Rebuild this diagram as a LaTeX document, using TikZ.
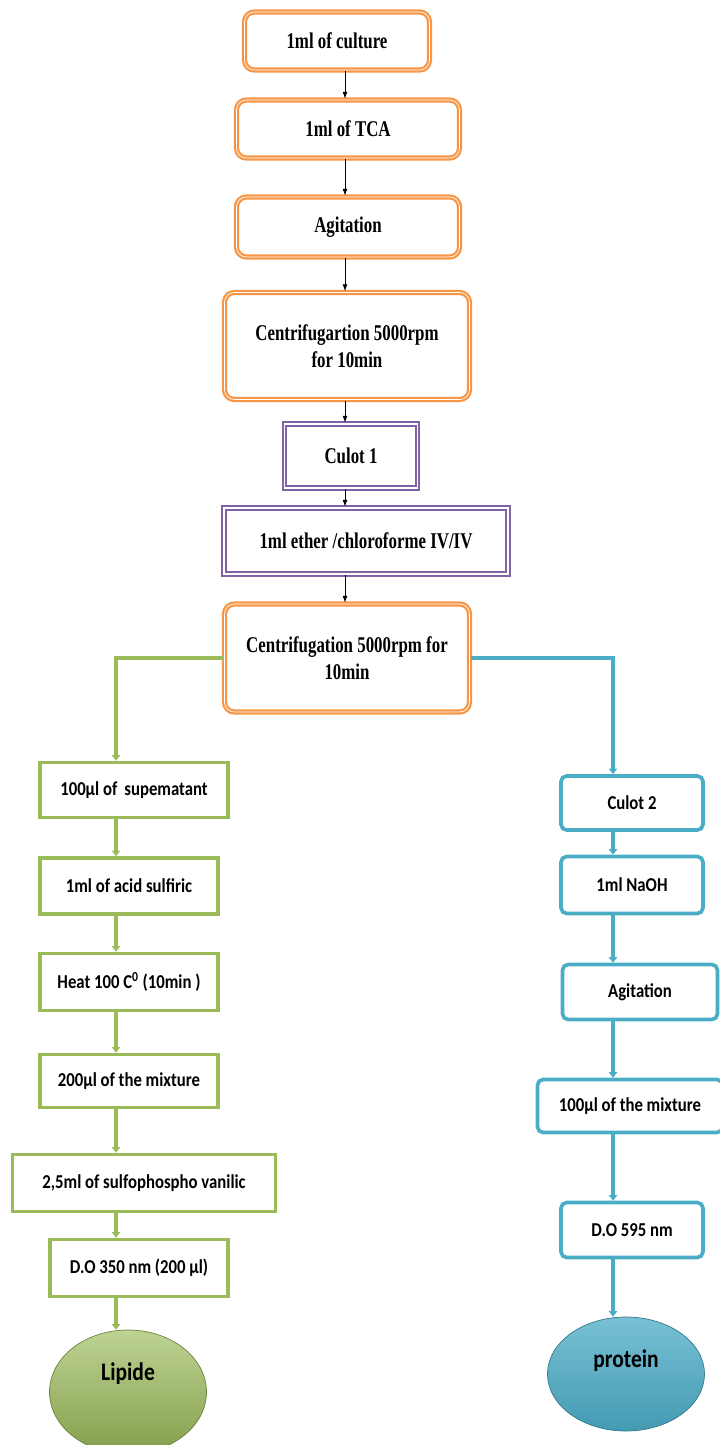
\documentclass[tikz,border=0pt]{standalone}
\usepackage{fontspec}
\newfontfamily\boxserif[FakeStretch=0.75]{Liberation Serif}
\newfontfamily\boxsans[FakeStretch=0.85]{Carlito}
\usetikzlibrary{arrows.meta,shapes.geometric}
\definecolor{boxorange}{RGB}{247,150,70}
\definecolor{boxpurple}{RGB}{128,100,162}
\definecolor{boxgreen}{RGB}{155,187,89}
\definecolor{boxblue}{RGB}{75,172,198}
\newdimen\pxu \pxu=0.025cm

\begin{document}
\begin{tikzpicture}[x=0.025cm,y=-0.025cm,
	orangebox/.style={draw=boxorange,double=white,line width=1.6pt,double distance=0.5pt,rounded corners=7pt,fill=white,inner sep=0pt,align=center,font=\boxserif\bfseries\fontsize{16}{19}\selectfont},
	purplebox/.style={draw=boxpurple,double=white,line width=1.6pt,double distance=0.9pt,fill=white,inner sep=0pt,align=center,font=\boxserif\bfseries\fontsize{16}{19}\selectfont},
	greenbox/.style={draw=boxgreen,line width=2.6pt,fill=white,inner sep=0pt,font=\boxsans\bfseries\fontsize{14}{16}\selectfont},
	bluebox/.style={draw=boxblue,line width=2.6pt,rounded corners=4pt,fill=white,inner sep=0pt,font=\boxsans\bfseries\fontsize{14}{16}\selectfont},
	blackarrow/.style={line width=0.7pt,-{Latex[length=5pt,width=3.5pt]}},
	greenline/.style={draw=boxgreen,line width=2.5pt,-{Triangle[length=4pt,width=6pt]}},
	blueline/.style={draw=boxblue,line width=2.5pt,-{Triangle[length=4pt,width=6pt]}}]
	\useasboundingbox (0,0) rectangle (720,1445);
	\coordinate (mx) at (345,0);
	\coordinate (gx) at (116,0);
	\coordinate (bx) at (613,0);
	\node[orangebox,minimum width=185\pxu,minimum height=58\pxu] (t1) at (337,41) {1ml of culture};
	\node[orangebox,minimum width=223\pxu,minimum height=58\pxu] (t2) at (348,129) {1ml of TCA};
	\node[orangebox,minimum width=223\pxu,minimum height=60\pxu] (t3) at (348,227) {Agitation};
	\node[orangebox,minimum width=245\pxu,minimum height=107\pxu] (t4) at (347,346) {Centrifugartion 5000rpm\\for 10min};
	\node[purplebox,minimum width=133\pxu,minimum height=64\pxu] (p1) at (351,456) {Culot 1};
	\node[purplebox,minimum width=284\pxu,minimum height=66\pxu] (p2) at (366,541) {1ml ether /chloroforme IV/IV};
	\node[orangebox,minimum width=245\pxu,minimum height=108\pxu] (t5) at (347,658) {Centrifugation 5000rpm for\\10min};
	\node[greenbox,minimum width=188\pxu,minimum height=55\pxu] (l1) at (134,790) {100µl of\, supematant};
	\node[greenbox,minimum width=178\pxu,minimum height=56\pxu] (l2) at (129,886) {1ml of acid sulfiric};
	\node[greenbox,minimum width=178\pxu,minimum height=57\pxu] (l3) at (129,982) {Heat 100 C\textsuperscript{0} (10min )};
	\node[greenbox,minimum width=178\pxu,minimum height=53\pxu] (l4) at (129,1081) {200µl of the mixture};
	\node[greenbox,minimum width=263\pxu,minimum height=57\pxu] (l5) at (144,1183) {2,5ml of sulfophospho vanilic};
	\node[greenbox,minimum width=178\pxu,minimum height=57\pxu] (l6) at (139,1268) {D.O 350 nm (200 µl)};
	\node[ellipse,draw=boxgreen!70!black,line width=0.5pt,top color=boxgreen!65!white,bottom color=boxgreen!85!black,minimum width=157\pxu,minimum height=124\pxu,inner sep=0pt,text height=11pt,text depth=28pt,font=\boxsans\bfseries\fontsize{18}{20}\selectfont] (lip) at (128,1392) {Lipide};
	\node[bluebox,minimum width=142\pxu,minimum height=54\pxu] (r1) at (632,803) {Culot 2};
	\node[bluebox,minimum width=142\pxu,minimum height=57\pxu] (r2) at (632,885) {1ml NaOH};
	\node[bluebox,minimum width=155\pxu,minimum height=55\pxu] (r3) at (640,992) {Agitation};
	\node[bluebox,minimum width=185\pxu,minimum height=53\pxu] (r4) at (630,1106) {100µl of the mixture};
	\node[bluebox,minimum width=142\pxu,minimum height=55\pxu] (r5) at (632,1230) {D.O 595 nm};
	\node[ellipse,draw=boxblue!70!black,line width=0.5pt,top color=boxblue!75!white,bottom color=boxblue!90!black,minimum width=157\pxu,minimum height=114\pxu,inner sep=0pt,text height=11pt,text depth=20pt,font=\boxsans\bfseries\fontsize{18}{20}\selectfont] (pro) at (626,1374) {protein};
	\foreach \a/\b in {t1/t2,t2/t3,t3/t4,t4/p1,p1/p2,p2/t5}
		\draw[blackarrow] (\a.south -| mx) -- (\b.north -| mx);
	\draw[greenline] (t5.west) -| (l1.north -| gx);
	\foreach \a/\b in {l1/l2,l2/l3,l3/l4,l4/l5,l5/l6,l6/lip}
		\draw[greenline] (\a.south -| gx) -- (\b.north -| gx);
	\draw[blueline] (t5.east) -| (r1.north -| bx);
	\foreach \a/\b in {r1/r2,r2/r3,r3/r4,r4/r5,r5/pro}
		\draw[blueline] (\a.south -| bx) -- (\b.north -| bx);
\end{tikzpicture}
\end{document}
